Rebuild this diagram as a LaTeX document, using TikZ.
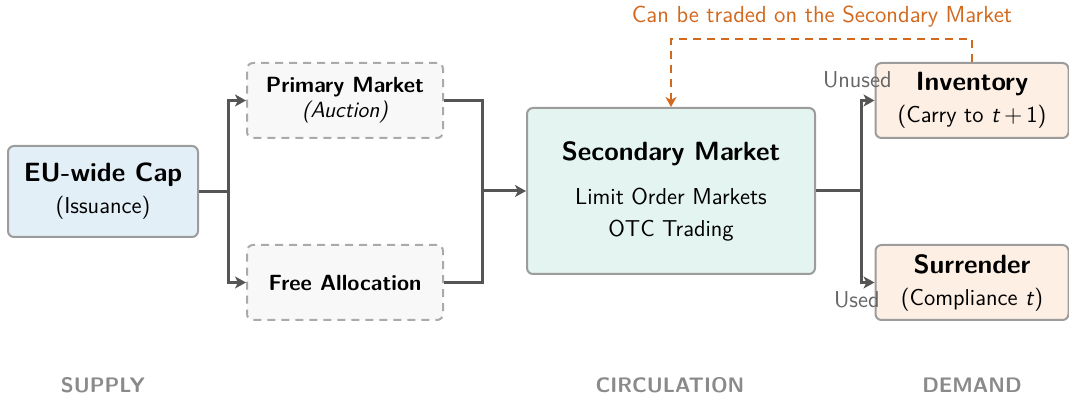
\documentclass[tikz,border=0pt]{standalone}
\usetikzlibrary{arrows.meta}
\renewcommand{\familydefault}{\sfdefault}
\definecolor{bluefill}{HTML}{E3EFF7}
\definecolor{tealfill}{HTML}{E4F4F0}
\definecolor{orangefill}{HTML}{FDEFE3}
\definecolor{greyfill}{HTML}{F8F8F8}
\definecolor{boxgrey}{HTML}{9C9C9C}
\definecolor{dashgrey}{HTML}{AAAAAA}
\definecolor{flowgrey}{HTML}{555555}
\definecolor{tradeorange}{HTML}{D2691E}
\definecolor{catgrey}{HTML}{8A8A8A}
\newcommand{\boxtitle}{\fontsize{13.2}{16}\selectfont\bfseries}
\newcommand{\bodysize}{\fontsize{11.5}{14}\selectfont}
\newcommand{\subsize}{\fontsize{11}{13.5}\selectfont}
\tikzset{
  box/.style={draw=boxgrey, line width=1pt, rounded corners=3pt, align=center, inner sep=0pt, font=\bodysize},
  dbox/.style={box, draw=dashgrey, fill=greyfill, dash pattern=on 4pt off 3pt, font=\subsize},
  flowline/.style={draw=flowgrey, line width=1.5pt},
  flowarrow/.style={flowline, -{Stealth[length=5.5pt,width=6pt,inset=1.5pt]}},
  tradeline/.style={draw=tradeorange, line width=1pt, dash pattern=on 4pt off 3pt, -{Stealth[length=5pt,width=5.5pt,inset=1.5pt]}},
  sidelbl/.style={text=flowgrey!90, inner sep=0pt, font=\fontsize{11.5}{13}\selectfont},
  catlbl/.style={text=catgrey, font=\fontsize{10.5}{12}\selectfont\bfseries, inner sep=0pt},
}
\begin{document}
\begin{tikzpicture}[x=0.5pt,y=-0.5pt]
\useasboundingbox (0,0) rectangle (1069,394);

% nodes
\node[box, fill=bluefill, minimum width=95pt, minimum height=45.5pt] (eu) at (103,191.5)
  {{\boxtitle EU-wide Cap}\\[2pt](Issuance)};
\node[dbox, minimum width=98pt, minimum height=37.5pt] (pm) at (345,100.5)
  {\bfseries Primary Market\\[-1pt]\itshape (Auction)};
\node[dbox, minimum width=98pt, minimum height=37.5pt] (fa) at (345,282.5)
  {\bfseries Free Allocation};
\node[box, fill=tealfill, minimum width=144pt, minimum height=83pt] (sm) at (671,191)
  {{\boxtitle Secondary Market}\\[8pt]Limit Order Markets\\[2pt]OTC Trading};
\node[box, fill=orangefill, minimum width=96.5pt, minimum height=37.5pt] (inv) at (972,100.5)
  {{\boxtitle Inventory}\\[2pt](Carry to \textit{t}\,$+$\,1)};
\node[box, fill=orangefill, minimum width=96.5pt, minimum height=37.5pt] (sur) at (972,282.5)
  {{\boxtitle Surrender}\\[2pt](Compliance \textit{t})};

% supply split
\coordinate (s1) at (228,191.5);
\draw[flowline] (eu.east) -- (s1);
\draw[flowarrow] (s1) |- (pm.west);
\draw[flowarrow] (s1) |- (fa.west);

% merge into secondary
\coordinate (j1) at (482,191);
\draw[flowline] (pm.east) -| (j1);
\draw[flowline] (fa.east) -| (j1);
\draw[flowarrow] (j1) -- (sm.west);

% demand split
\coordinate (s2) at (861,191);
\draw[flowline] (sm.east) -- (s2);
\draw[flowarrow] (s2) |- (inv.west);
\draw[flowarrow] (s2) |- (sur.west);

\node[sidelbl, anchor=base east] (unused) at (892,88) {Unused};
\node[sidelbl, anchor=base east] (used) at (880,308) {Used};

% trade back loop
\coordinate (o2) at (671,39);
\draw[tradeline] (inv.north) |- (o2) -- (sm.north);
\node[text=tradeorange, inner sep=0pt, font=\fontsize{11.6}{14}\selectfont] (tradelbl) at (822,17) {Can be traded on the Secondary Market};

% category labels
\node[catlbl] (supply) at (103,385) {SUPPLY};
\node[catlbl] (circ) at (670,385) {CIRCULATION};
\node[catlbl] (demand) at (972,385) {DEMAND};
\end{tikzpicture}
\end{document}
